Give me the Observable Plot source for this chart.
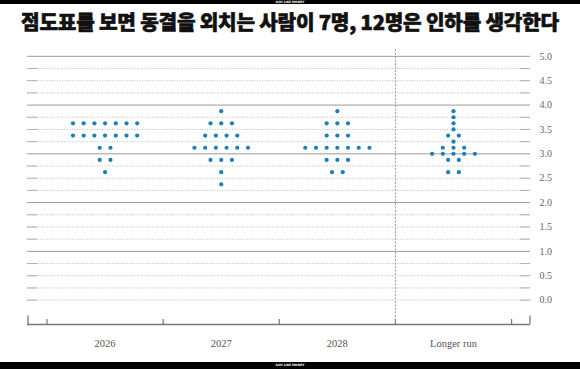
<!DOCTYPE html>
<html>
<head>
<meta charset="utf-8">
<script src="https://cdn.jsdelivr.net/npm/d3@7"></script>
<script src="https://cdn.jsdelivr.net/npm/@observablehq/plot@0.6"></script>
<style>
  html, body { margin: 0; padding: 0; background: #fff; width: 580px; height: 369px; overflow: hidden; }
  .bar { background: #000; color: #fff; font: bold 3px "DejaVu Sans", sans-serif; text-align: center; overflow: hidden; }
  #topbar { height: 4px; line-height: 4px; }
  #botbar { height: 7px; line-height: 7px; }
  #title { height: 32px; line-height: 36px; text-align: center; font-family: "Noto Sans CJK KR", sans-serif; font-weight: 900; font-size: 20.2px; color: #111; letter-spacing: -0.2px; white-space: nowrap; -webkit-text-stroke: 0.6px #111; }
  #chart { height: 326px; }
  svg { display: block; }
</style>
</head>
<body>
<div id="topbar" class="bar">ASH LIKE MONEY</div>
<div id="title">점도표를 보면 동결을 외치는 사람이 7명, 12명은 인하를 생각한다</div>
<div id="chart"></div>
<div id="botbar" class="bar">ASH LIKE MONEY</div>
<script>
const categories = ["2026", "2027", "2028", "Longer run"];
// [rate (midpoint, %), number of participants]
const dots2026 = [[3.625, 7], [3.375, 7], [3.125, 2], [2.875, 2], [2.625, 1]];
const dots2027 = [[3.875, 1], [3.625, 3], [3.375, 4], [3.125, 6], [2.875, 3], [2.625, 1], [2.375, 1]];
const dots2028 = [[3.875, 1], [3.625, 3], [3.375, 3], [3.125, 7], [2.875, 3], [2.625, 2]];
const dotsLonger = [[3.875, 1], [3.75, 1], [3.625, 1], [3.5, 1], [3.375, 2], [3.25, 1], [3.125, 3], [3.0, 5], [2.875, 2], [2.625, 2]];
const yTickLabels = [0, 0.5, 1, 1.5, 2, 2.5, 3, 3.5, 4, 4.5, 5];
const gridValues = d3.range(0, 5.001, 0.25);

const W = 580, H = 326;
const mL = 27, mR = 50, mT = 13, mB = 38;
const xDomain = [-0.668, 3.663];
const yDomain = [-0.5, 5.14];
const pxPerX = (W - mL - mR) / (xDomain[1] - xDomain[0]);
const pxPerY = (H - mT - mB) / (yDomain[1] - yDomain[0]);
const spacing = 10.7 / pxPerX;

const series = [dots2026, dots2027, dots2028, dotsLonger];
const table = [];
series.forEach((rows, i) => {
  rows.forEach(([rate, n]) => {
    for (let j = 0; j < n; j++) {
      table.push({cat: categories[i], i, rate, x: i + (j - (n - 1) / 2) * spacing});
    }
  });
});

const solid = gridValues.filter(v => v >= 1 && Number.isInteger(v));
const dotted = gridValues.filter(v => !(v >= 1 && Number.isInteger(v)));
const endLen = 10 / pxPerX;
const catIdx = categories.map((c, i) => i);
const bounds = [-0.5, 0.5, 1.5, 2.5, 3.5];

const chart = Plot.plot({
  width: W,
  height: H,
  marginLeft: mL,
  marginRight: mR,
  marginTop: mT,
  marginBottom: mB,
  x: {domain: xDomain, axis: null},
  y: {domain: yDomain, axis: null},
  style: {fontFamily: "'Liberation Serif', serif", background: "#fff"},
  marks: [
    Plot.ruleY(dotted, {stroke: "#bdbdbd", strokeWidth: 1, strokeDasharray: "1,1.5"}),
    Plot.ruleY(dotted, {x1: xDomain[0], x2: xDomain[0] + endLen, stroke: "#b0b0b0", strokeWidth: 1}),
    Plot.ruleY(dotted, {x1: xDomain[1] - endLen, x2: xDomain[1], stroke: "#b0b0b0", strokeWidth: 1}),
    Plot.ruleY(solid, {stroke: "#9a9a9a", strokeWidth: 1}),
    Plot.ruleX([2.5], {stroke: "#999", strokeWidth: 1, strokeDasharray: "2,1.5"}),
    Plot.ruleY([yDomain[0]], {stroke: "#777", strokeWidth: 1.3}),
    Plot.ruleX(bounds, {y1: yDomain[0], y2: yDomain[0] + 5 / pxPerY, stroke: "#777", strokeWidth: 1.2}),
    Plot.ruleX([xDomain[0] + 0.5 / pxPerX, xDomain[1] - 0.5 / pxPerX], {y1: yDomain[0], y2: yDomain[0] + 8.5 / pxPerY, stroke: "#777", strokeWidth: 1.3}),
    Plot.dot(table, {x: "x", y: "rate", r: 2.1, fill: "#1a80b8", stroke: "none"}),
    Plot.text(yTickLabels, {x: xDomain[1], y: d => d, text: d => d.toFixed(1), dx: 9, textAnchor: "start", fill: "#666", fontSize: 10}),
    Plot.text(catIdx, {x: d => d, y: yDomain[0], text: d => categories[d], dy: 19, fill: "#555", fontSize: 10.5, lineAnchor: "middle"})
  ]
});
document.getElementById("chart").appendChild(chart);
</script>
</body>
</html>
